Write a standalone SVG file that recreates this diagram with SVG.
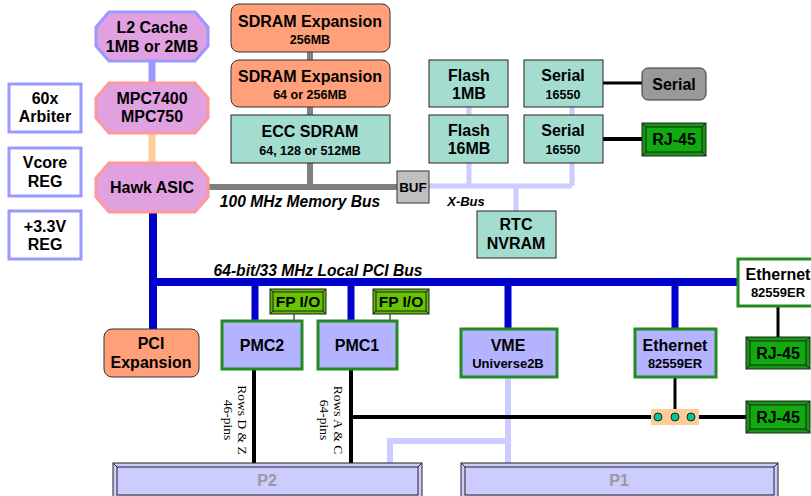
<svg xmlns="http://www.w3.org/2000/svg" width="811" height="496" viewBox="0 0 811 496">
<defs>
<style>
text{font-family:"Liberation Sans",Arial,sans-serif;font-weight:bold;fill:#000;text-anchor:middle}
.t15{font-size:16px}.t14{font-size:16px}.t13{font-size:15.5px}.t12{font-size:13px}.t11{font-size:12.5px}
.it{font-style:italic;font-size:15.6px}
.rot{font-family:"Liberation Serif","Times New Roman",serif;font-weight:normal;font-size:13.5px;text-anchor:middle}
.oct{fill:#e1a1e1;stroke-width:3}
.side{fill:#fff;stroke:#9999ff;stroke-width:3}
.sal{fill:#ffa07a;stroke:#333;stroke-width:1}
.teal{fill:#a3ddd0;stroke:#222;stroke-width:1}
.pmc{fill:#b3b3ff;stroke:#228b22;stroke-width:3}
.blue{stroke:#0000cc;fill:none}
.gray{stroke:#808080;fill:none;stroke-width:6}
.xb{stroke:#ccccff;fill:none}
.blk{stroke:#000;fill:none}
.conn{stroke:#ccccff;fill:none;stroke-width:6}
.bev{stroke:#222;stroke-width:1}
.pl{fill:#999;font-size:16px}
</style>
</defs>

<g id="connectors">
  <line x1="152" y1="61" x2="152" y2="83" stroke="#9999ff" stroke-width="7"/>
  <line x1="152" y1="133" x2="152" y2="163" stroke="#ffcc99" stroke-width="7"/>
  <line class="gray" x1="208" y1="187" x2="397" y2="187"/>
  <line class="gray" x1="310" y1="52" x2="310" y2="60"/>
  <line class="gray" x1="310" y1="107" x2="310" y2="115"/>
  <line class="gray" x1="310" y1="163" x2="310" y2="187"/>
  <path class="xb" stroke-width="5" d="M429 186 H572 M469 107 V115 M469 163 V186 M572 107 V115 M572 163 V186 M516 186 V211"/>
  <line class="blk" stroke-width="3" x1="603" y1="83" x2="642" y2="83"/>
  <line class="blk" stroke-width="4" x1="603" y1="139" x2="642" y2="139"/>
  <path class="blue" stroke-width="8" d="M153 212 V329 M149 282 H737"/>
  <path class="blue" stroke-width="7" d="M255 282 V321 M351 282 V321 M508 282 V329 M675 282 V329"/>
  <path class="blk" stroke-width="1" d="M294 314 V321 M390 314 V321"/>
  <path class="conn" d="M508 377 V463 M387 441 H508 M390 441 V463"/>
  <path class="blk" stroke-width="4" d="M254 369 V463 M351 369 V463 M351 417 H746"/>
  <path class="blk" stroke-width="3" d="M675 377 V409 M778 306 V337"/>
</g>

<g id="l2cache">
  <polygon class="oct" stroke="#9999ff" points="109,12 195,12 208,27 208,46 195,61 109,61 96,46 96,27"/>
  <text class="t15" x="152" y="33">L2 Cache</text>
  <text class="t15" x="152" y="52">1MB or 2MB</text>
</g>
<g id="mpc">
  <polygon class="oct" stroke="#ff9999" points="109,83 195,83 208,98 208,118 195,133 109,133 96,118 96,98"/>
  <text class="t15" x="152" y="104">MPC7400</text>
  <text class="t15" x="152" y="122">MPC750</text>
</g>
<g id="hawk">
  <polygon class="oct" stroke="#ff9999" points="109,163 195,163 208,178 208,197 195,212 109,212 96,197 96,178"/>
  <text class="t15" x="152" y="193">Hawk ASIC</text>
</g>
<g id="arbiter">
  <rect class="side" x="9" y="84" width="72" height="48"/>
  <text class="t15" x="45" y="104">60x</text>
  <text class="t15" x="45" y="122">Arbiter</text>
</g>
<g id="vcore">
  <rect class="side" x="9" y="148" width="72" height="48"/>
  <text class="t15" x="45" y="168">Vcore</text>
  <text class="t15" x="45" y="187">REG</text>
</g>
<g id="reg33">
  <rect class="side" x="9" y="211" width="72" height="48"/>
  <text class="t15" x="45" y="232">+3.3V</text>
  <text class="t15" x="45" y="250">REG</text>
</g>

<g id="sdram1">
  <rect class="sal" x="231" y="4" width="159" height="48" rx="8"/>
  <text class="t15" x="310" y="27">SDRAM Expansion</text>
  <text class="t11" x="310" y="44">256MB</text>
</g>
<g id="sdram2">
  <rect class="sal" x="231" y="60" width="159" height="47" rx="8"/>
  <text class="t15" x="310" y="82">SDRAM Expansion</text>
  <text class="t11" x="310" y="99">64 or 256MB</text>
</g>
<g id="ecc">
  <rect class="teal" x="231" y="115" width="159" height="48"/>
  <text class="t15" x="310" y="137">ECC SDRAM</text>
  <text class="t11" x="310" y="155">64, 128 or 512MB</text>
</g>
<text class="it" x="300" y="207">100 MHz Memory Bus</text>

<g id="buf">
  <rect x="397" y="171" width="32" height="32" fill="#c0c0c0" stroke="#333"/>
  <text style="font-size:13.5px" x="413" y="192">BUF</text>
</g>
<text class="it" style="font-size:13px" x="466" y="206">X-Bus</text>

<g id="flash1">
  <rect class="teal" x="429" y="60" width="79" height="47"/>
  <text class="t15" x="469" y="81">Flash</text>
  <text class="t15" x="469" y="99">1MB</text>
</g>
<g id="flash16">
  <rect class="teal" x="429" y="115" width="79" height="48"/>
  <text class="t15" x="469" y="136">Flash</text>
  <text class="t15" x="469" y="154">16MB</text>
</g>
<g id="serial1">
  <rect class="teal" x="524" y="60" width="79" height="47"/>
  <text class="t15" x="563" y="81">Serial</text>
  <text class="t11" x="563" y="99">16550</text>
</g>
<g id="serial2">
  <rect class="teal" x="524" y="115" width="79" height="48"/>
  <text class="t15" x="563" y="136">Serial</text>
  <text class="t11" x="563" y="154">16550</text>
</g>
<g id="serialport">
  <rect x="642" y="68" width="64" height="32" rx="6" fill="#999" stroke="#333"/>
  <text class="t15" x="674" y="90">Serial</text>
</g>
<g id="rj45a">
  <rect x="642" y="123" width="64" height="33" fill="#119911" stroke="#222"/>
  <rect x="646" y="127" width="56" height="25" fill="#11aa11" class="bev"/>
  <path class="bev" d="M642 123 L646 127 M706 123 L702 127 M642 156 L646 152 M706 156 L702 152"/>
  <text class="t14" x="674" y="145">RJ-45</text>
</g>
<g id="rtc">
  <rect class="teal" x="477" y="211" width="79" height="47"/>
  <text class="t15" x="516" y="230">RTC</text>
  <text class="t15" x="516" y="249">NVRAM</text>
</g>

<text class="it" x="318" y="276">64-bit/33 MHz Local PCI Bus</text>

<g id="pciexp">
  <rect class="sal" x="104" y="329" width="95" height="48" rx="8"/>
  <text class="t15" x="151" y="349">PCI</text>
  <text class="t15" x="151" y="368">Expansion</text>
</g>
<g id="fpio2">
  <rect x="270" y="289" width="56" height="25" fill="#5cb800" stroke="#222"/>
  <rect x="273" y="292" width="50" height="19" fill="#66c400" class="bev"/>
  <path class="bev" d="M270 289 L273 292 M326 289 L323 292 M270 314 L273 311 M326 314 L323 311"/>
  <text class="t13" x="298" y="307">FP I/O</text>
</g>
<g id="fpio1">
  <rect x="373" y="289" width="56" height="25" fill="#5cb800" stroke="#222"/>
  <rect x="376" y="292" width="50" height="19" fill="#66c400" class="bev"/>
  <path class="bev" d="M373 289 L376 292 M429 289 L426 292 M373 314 L376 311 M429 314 L426 311"/>
  <text class="t13" x="401" y="307">FP I/O</text>
</g>
<g id="pmc2">
  <rect class="pmc" x="222" y="321" width="80" height="48"/>
  <text class="t15" x="262" y="351">PMC2</text>
</g>
<g id="pmc1">
  <rect class="pmc" x="318" y="321" width="79" height="48"/>
  <text class="t15" x="357" y="351">PMC1</text>
</g>
<g id="vme">
  <rect class="pmc" x="461" y="329" width="96" height="48"/>
  <text class="t15" x="508" y="351">VME</text>
  <text class="t12" x="508" y="368">Universe2B</text>
</g>
<g id="eth1">
  <rect class="pmc" x="635" y="329" width="81" height="48"/>
  <text class="t15" x="675" y="351">Ethernet</text>
  <text class="t12" x="675" y="368">82559ER</text>
</g>
<g id="eth2">
  <rect x="738" y="259" width="80" height="47" fill="#fff" stroke="#228b22" stroke-width="3"/>
  <text class="t14" x="778" y="280">Ethernet</text>
  <text class="t12" x="778" y="297">82559ER</text>
</g>
<g id="rj45b">
  <rect x="746" y="337" width="64" height="32" fill="#119911" stroke="#222"/>
  <rect x="750" y="341" width="56" height="24" fill="#11aa11" class="bev"/>
  <path class="bev" d="M746 337 L750 341 M810 337 L806 341 M746 369 L750 365 M810 369 L806 365"/>
  <text class="t14" x="778" y="359">RJ-45</text>
</g>
<g id="rj45c">
  <rect x="746" y="401" width="64" height="32" fill="#119911" stroke="#222"/>
  <rect x="750" y="405" width="56" height="24" fill="#11aa11" class="bev"/>
  <path class="bev" d="M746 401 L750 405 M810 401 L806 405 M746 433 L750 429 M810 433 L806 429"/>
  <text class="t14" x="778" y="423">RJ-45</text>
</g>
<g id="leds">
  <rect x="651" y="409" width="48" height="16" fill="#ffcc99"/>
  <circle cx="658" cy="417" r="4" fill="#00c896" stroke="#222"/>
  <circle cx="675" cy="417" r="4" fill="#00c896" stroke="#222"/>
  <circle cx="691" cy="417" r="4" fill="#00c896" stroke="#222"/>
</g>

<g id="rowslabels">
  <text class="rot" transform="translate(238,420) rotate(90)">Rows D &amp; Z</text>
  <text class="rot" transform="translate(224,420) rotate(90)">46-pins</text>
  <text class="rot" transform="translate(334,420) rotate(90)">Rows A &amp; C</text>
  <text class="rot" transform="translate(320,420) rotate(90)">64-pins</text>
</g>

<g id="p2">
  <rect x="113" y="463" width="309" height="36" fill="#ccccff" stroke="#222"/>
  <rect x="117" y="467" width="301" height="28" fill="#ccccff" class="bev"/>
  <path class="bev" d="M113 463 L117 467 M422 463 L418 467"/>
  <text class="pl" x="267" y="486">P2</text>
</g>
<g id="p1">
  <rect x="461" y="463" width="317" height="36" fill="#ccccff" stroke="#222"/>
  <rect x="465" y="467" width="309" height="28" fill="#ccccff" class="bev"/>
  <path class="bev" d="M461 463 L465 467 M778 463 L774 467"/>
  <text class="pl" x="619" y="486">P1</text>
</g>
</svg>
